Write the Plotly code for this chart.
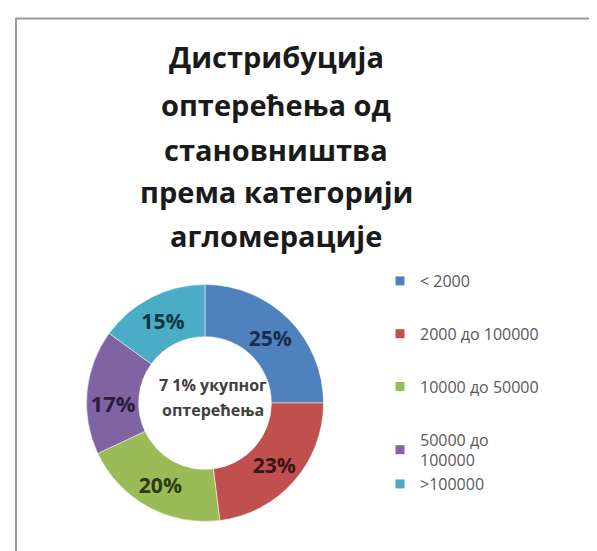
import plotly.graph_objects as go

categories = ["< 2000", "2000 до 100000", "10000 до 50000", "50000 до<br>100000", ">100000"]
shares = [25, 23, 20, 17, 15]
colors = ["#4F81BD", "#C0504D", "#9BBB59", "#8064A2", "#4BACC6"]
label_colors = ["#1B2D4F", "#3D1414", "#2D3A12", "#2A1C3F", "#0F3542"]
title_lines = ["Дистрибуција", "оптерећења од", "становништва", "према категорији", "агломерације"]
center_lines = ["7 1% укупног", "оптерећења"]

W, H = 597, 551

def px(x):
    return x / W

def py(y):
    return 1 - y / H

fig = go.Figure()

cx, cy, r = 197, 395, 118.5
fig.add_trace(go.Pie(
    labels=categories,
    values=shares,
    sort=False,
    direction="clockwise",
    rotation=0,
    hole=0.56,
    marker=dict(colors=colors, line=dict(color="white", width=0.5)),
    texttemplate="%{percent:.0%}",
    textposition="inside",
    insidetextorientation="horizontal",
    textfont=dict(family="Open Sans", size=22, color=label_colors, weight="bold"),
    domain=dict(x=[px(cx - r), px(cx + r)], y=[py(cy + r), py(cy - r)]),
    showlegend=False,
    hoverinfo="label+percent",
))

# legend entries (one trace per category so that spacing can be controlled)
groups = ["g1", "g2", "g3", "g4", "g4"]
for name, col, grp in zip(categories, colors, groups):
    fig.add_trace(go.Scatter(
        x=[None], y=[None], mode="markers", name=name, legendgroup=grp,
        marker=dict(symbol="square", size=9, color=col),
    ))

annotations = []
title_y = [48, 96, 141, 184, 227]
for line, yy in zip(title_lines, title_y):
    annotations.append(dict(
        text=line, x=px(268), y=py(yy), xref="paper", yref="paper",
        xanchor="center", yanchor="middle", showarrow=False,
        font=dict(family="Open Sans", size=29, color="#1A1A1A", weight="bold"),
    ))
for line, yy in zip(center_lines, [377, 402]):
    annotations.append(dict(
        text=line, x=px(205), y=py(yy), xref="paper", yref="paper",
        xanchor="center", yanchor="middle", showarrow=False,
        font=dict(family="Open Sans", size=16, color="#404040", weight="bold"),
    ))

shapes = [
    dict(type="line", xref="paper", yref="paper", x0=px(8), x1=px(8), y0=py(10), y1=py(548),
         line=dict(color="#9A9A9A", width=2)),
    dict(type="line", xref="paper", yref="paper", x0=px(8), x1=px(597), y0=py(10.5), y1=py(10.5),
         line=dict(color="#9A9A9A", width=2)),
    dict(type="line", xref="paper", yref="paper", x0=px(587), x1=px(587), y0=py(10), y1=py(548),
         line=dict(color="#EFEFEF", width=1)),
]

fig.update_layout(
    width=W, height=H,
    margin=dict(l=0, r=0, t=0, b=0),
    paper_bgcolor="white",
    plot_bgcolor="white",
    xaxis=dict(visible=False),
    yaxis=dict(visible=False),
    annotations=annotations,
    shapes=shapes,
    legend=dict(
        x=px(372), y=py(256), xanchor="left", yanchor="top",
        traceorder="grouped", tracegroupgap=29,
        font=dict(family="Open Sans", size=16, color="#595959"),
        bgcolor="rgba(0,0,0,0)",
        itemclick=False, itemdoubleclick=False,
    ),
)

fig.write_html("out.html")
